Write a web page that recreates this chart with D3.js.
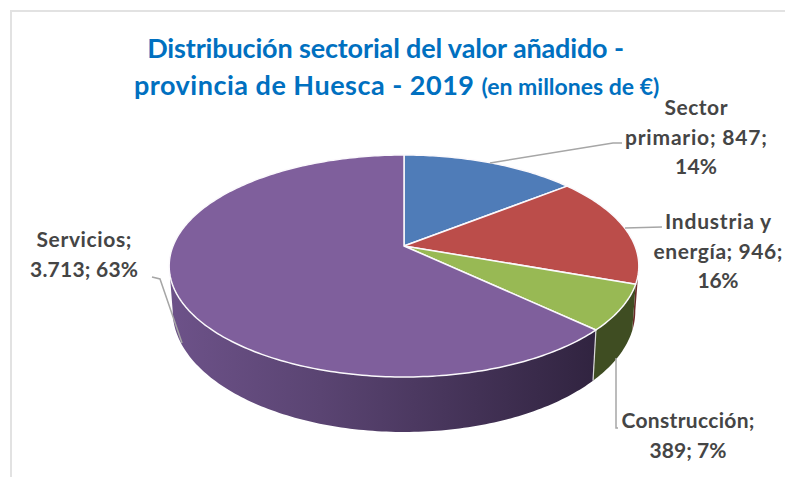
<!DOCTYPE html>
<meta charset="utf-8">
<style>
  body { margin: 0; background: #fff; }
  text { font-family: Lato, Carlito, sans-serif; }
</style>
<svg width="785" height="477"></svg>
<script src="https://d3js.org/d3.v7.min.js"></script>
<script>
var categories = ['Sector primario', 'Industria y energía', 'Construcción', 'Servicios']
var values = [847, 946, 389, 3713]
var valueLabels = ['847', '946', '389', '3.713']
var percents = ['14%', '16%', '7%', '63%']
var colors = ['#4f7cb8', '#bb4d4a', '#98b954', '#7f5f9c']
var wallColors = ['#2c4468', '#6b2a28', '#3f4d22', '#5f4778']

var svg = d3.select('svg')
var width = 785, height = 477

// the pie is a tilted disc: u, v on the unit circle go through a perspective divide
var tilt = 0.18
var xScale = d3.scaleLinear().domain([-1, 1]).range([173, 635])
var yScale = d3.scaleLinear().domain([-1, 1]).range([138.6, 353.4])
var depthScale = d3.scaleLinear().domain([155, 377]).range([35, 55])

function project(angle) {
    var u = Math.sin(angle), v = -Math.cos(angle)
    var w = 1 - tilt * v
    return [xScale(u / w), yScale(v / w)]
}
function lower(p) {
    var cx = xScale(0)
    return [cx + (p[0] - cx) * 0.985, p[1] + depthScale(p[1])]
}
var center = [xScale(0), yScale(0)]
var line = d3.line()

var arcs = d3.pie().sort(null).value(function (d) { return d })(values)

function rim(a0, a1) {
    var n = Math.max(2, Math.ceil((a1 - a0) * 60))
    return d3.range(n + 1).map(function (i) { return project(a0 + (a1 - a0) * i / n) })
}

svg.append('rect').attr('width', width).attr('height', height).attr('fill', '#fff')
// chart frame
svg.append('path').attr('d', line([[11, height], [11, 11], [width, 11]]))
    .attr('fill', 'none').attr('stroke', '#e2e2e2').attr('stroke-width', 2)

var defs = svg.append('defs')
var wallGrad = defs.append('linearGradient').attr('id', 'wall-purple')
    .attr('gradientUnits', 'userSpaceOnUse')
    .attr('x1', 170).attr('x2', 600).attr('y1', 0).attr('y2', 0)
wallGrad.append('stop').attr('offset', 0).attr('stop-color', '#6d5289')
wallGrad.append('stop').attr('offset', 0.35).attr('stop-color', '#5a4472')
wallGrad.append('stop').attr('offset', 1).attr('stop-color', '#30233f')

// walls first, only the front half of the rim shows
var frontStart = Math.PI / 2 + 0.18
var frontEnd = Math.PI * 1.5 - 0.18
var walls = svg.append('g')
arcs.forEach(function (d, i) {
    var a0 = Math.max(d.startAngle, frontStart), a1 = Math.min(d.endAngle, frontEnd)
    if (a1 <= a0) return
    var top = rim(a0, a1)
    var bottom = top.map(lower).reverse()
    walls.append('path')
        .attr('d', line(top.concat(bottom)) + 'Z')
        .attr('fill', categories[i] === 'Servicios' ? 'url(#wall-purple)' : wallColors[i])
})
// light seam between construction and services wall
var seam = project(arcs[2].endAngle)
walls.append('path').attr('d', line([seam, lower(seam)]))
    .attr('stroke', '#d9d9d9').attr('stroke-width', 1.2).attr('fill', 'none')

// top face
svg.append('g').selectAll('path').data(arcs).enter().append('path')
    .attr('d', function (d) {
        return line([center].concat(rim(d.startAngle, d.endAngle))) + 'Z'
    })
    .attr('fill', function (d, i) { return colors[i] })
    .attr('stroke', '#fbf9fc').attr('stroke-width', 1.5).attr('stroke-linejoin', 'round')

// leader lines
var leaders = [
    [[490, 163], [613, 143], [622, 143]],
    [[625, 228], [662, 227]],
    [[616, 358], [616, 428], [618, 428]],
    [[182, 343], [160, 279], [152, 277]]
]
svg.append('g').selectAll('path').data(leaders).enter().append('path')
    .attr('d', function (d) { return line(d) })
    .attr('fill', 'none').attr('stroke', '#a6a6a6').attr('stroke-width', 1.5)

// labels, each row stretched to the width it has in the picture
var labelLines = [
    ['Sector', 'primario; ' + valueLabels[0] + ';', percents[0]],
    ['Industria y', 'energía; ' + valueLabels[1] + ';', percents[1]],
    ['Construcción;', valueLabels[2] + '; ' + percents[2]],
    ['Servicios;', valueLabels[3] + '; ' + percents[3]]
]
var labelWidths = [[63, 142, 42], [106, 129, 41], [133, 77], [95, 108]]
var labelPos = [[696, 115], [718, 229], [688, 428], [84, 247]]
var labels = svg.append('g').attr('fill', '#454545').attr('font-size', 21)
    .attr('font-weight', 700).attr('text-anchor', 'middle')
labelLines.forEach(function (rows, i) {
    rows.forEach(function (t, j) {
        labels.append('text').attr('x', labelPos[i][0]).attr('y', labelPos[i][1] + j * 29.5)
            .attr('textLength', labelWidths[i][j]).attr('lengthAdjust', 'spacing').text(t)
    })
})

// title
var title = svg.append('g').attr('fill', '#0070c0').attr('font-weight', 700).attr('font-size', 27)
title.append('text').attr('x', 385.5).attr('y', 58).attr('text-anchor', 'middle')
    .attr('letter-spacing', -0.15).text('Distribución sectorial del valor añadido -')
var t2 = title.append('text').attr('x', 134).attr('y', 95)
t2.append('tspan').attr('letter-spacing', 0.5).text('provincia de Huesca - 2019 ')
t2.append('tspan').attr('font-size', 23).text('(en millones de €)')
</script>
